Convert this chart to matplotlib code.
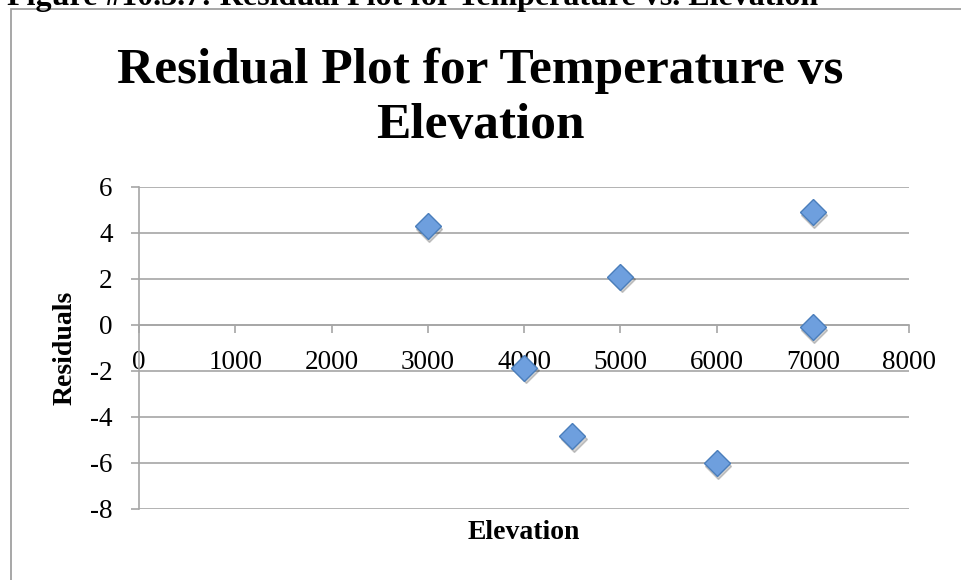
import matplotlib
matplotlib.use("Agg")
import matplotlib.pyplot as plt
import matplotlib.transforms as mtransforms
from matplotlib.patches import Rectangle

# residuals
elevation = [3000, 4000, 4500, 5000, 6000, 7000, 7000]
residuals = [4.3, -1.85, -4.83, 2.1, -6.0, 4.9, -0.1]

x_ticks = [0, 1000, 2000, 3000, 4000, 5000, 6000, 7000, 8000]
y_ticks = [-8, -6, -4, -2, 0, 2, 4, 6]

serif = "Liberation Serif"
grid_col = "#a6a6a6"
plt.rcParams["font.family"] = [serif, "DejaVu Serif"]

fig = plt.figure(figsize=(9.61, 5.80), dpi=100, facecolor="w")
ax = fig.add_axes([139 / 961, 1 - 509 / 580, 770 / 961, 322 / 580])

# outer chart frame (runs off the right / bottom of the picture)
fig.patches.append(Rectangle((11 / 961, -0.1), 1.2, 1 - 9 / 580 + 0.1,
                             transform=fig.transFigure, fill=False,
                             edgecolor="#a0a0a0", linewidth=1.3))

# caption of the document, cut off at the top as in the source
fig.text(7 / 961, 1 - 5 / 580,
         "Figure #10.3.7: Residual Plot for Temperature vs. Elevation",
         ha="left", va="baseline", fontsize=23, fontweight="bold")

# chart title
fig.text(480 / 961, 1 - 83 / 580, "Residual Plot for Temperature vs",
         ha="center", va="baseline", fontsize=37, fontweight="bold")
fig.text(480 / 961, 1 - 138 / 580, "Elevation",
         ha="center", va="baseline", fontsize=37, fontweight="bold")

# x axis crosses at zero (do this before touching tick labels)
for side in ["top", "right"]:
    ax.spines[side].set_visible(False)
ax.spines["bottom"].set_position(("data", 0))
ax.spines["bottom"].set_color(grid_col)
ax.spines["bottom"].set_linewidth(1.2)
ax.spines["left"].set_color(grid_col)
ax.spines["left"].set_linewidth(1.2)

# shadow under the diamonds
shadow = mtransforms.offset_copy(ax.transData, fig=fig, x=1.5, y=-2.5, units="dots")
ax.plot(elevation, residuals, linestyle="none", marker="D", markersize=13,
        color="#000000", alpha=0.18, transform=shadow, zorder=3)
ax.plot(elevation, residuals, linestyle="none", marker="D", markersize=13,
        markerfacecolor="#6e9fde", markeredgecolor="#4a7ebb",
        markeredgewidth=1.0, zorder=4)

ax.set_xlim(0, 8000)
ax.set_ylim(-8, 6)
ax.set_xticks(x_ticks)
ax.set_yticks(y_ticks)
ax.set_xticklabels([str(v) for v in x_ticks])
ax.set_yticklabels([str(v) for v in y_ticks])

ax.grid(axis="y", color=grid_col, linewidth=1.2)
ax.set_axisbelow(True)

ax.tick_params(axis="x", direction="out", length=6, width=1.2, color=grid_col,
               pad=12, labelsize=19.5)
ax.tick_params(axis="y", direction="out", length=6, width=1.2, color=grid_col,
               pad=13, labelsize=19.5)

ax.set_xlabel("Elevation", fontsize=20, fontweight="bold")
ax.xaxis.set_label_coords(0.5, -0.035)
ax.set_ylabel("Residuals", fontsize=20, fontweight="bold")
ax.yaxis.set_label_coords(-0.08, 0.5)

plt.savefig("out.png", dpi=100)
